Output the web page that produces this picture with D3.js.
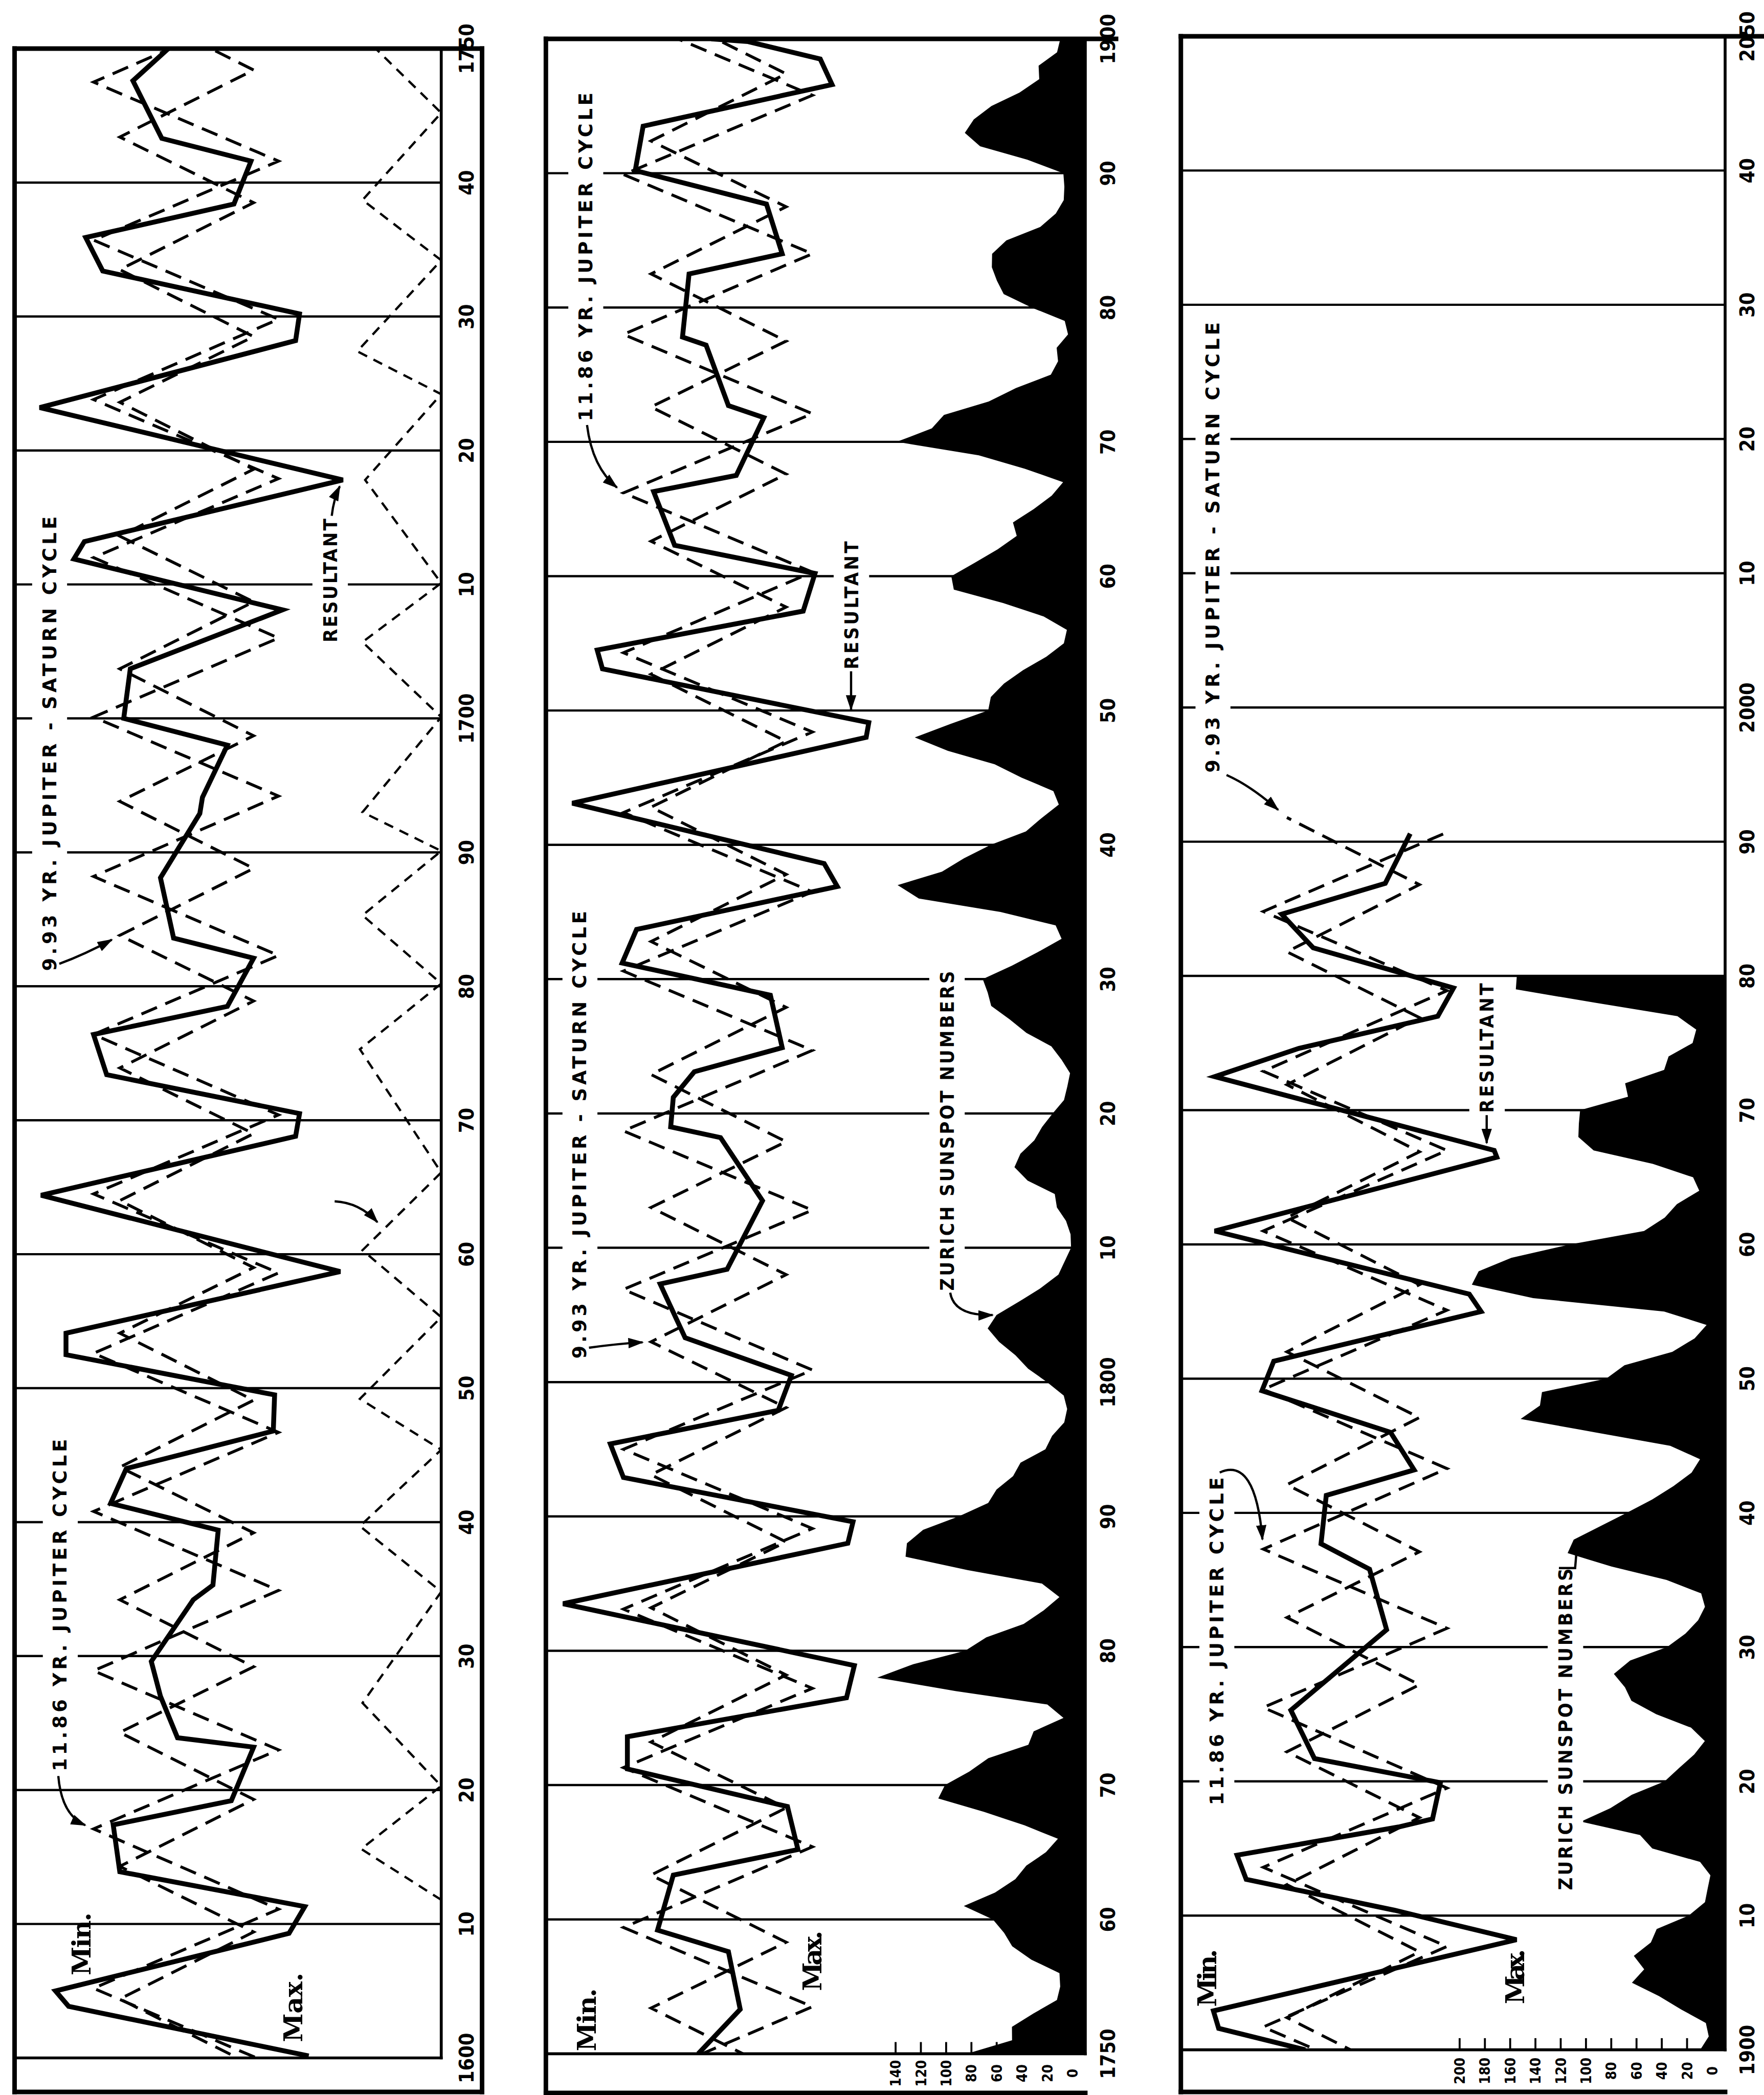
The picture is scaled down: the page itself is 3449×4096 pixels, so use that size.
<!DOCTYPE html>
<html>
<head>
<meta charset="utf-8">
<title>Jupiter and Jupiter–Saturn cycles with Zurich sunspot numbers, 1600–2050</title>
<script src="https://cdn.jsdelivr.net/npm/d3@7"></script>
<style>
  html, body { margin: 0; padding: 0; background: #ffffff; }
  svg { display: block; }
</style>
</head>
<body>
<svg id="chart" width="3449" height="4096" xmlns="http://www.w3.org/2000/svg"></svg>
<script>
// ---------------- data ----------------

// Decade labels printed along the right edge of each strip.
const yearLabelsA = ["1600","10","20","30","40","50","60","70","80","90","1700","10","20","30","40","1750"];
const yearLabelsB = ["1750","60","70","80","90","1800","10","20","30","40","50","60","70","80","90","1900"];
const yearLabelsC = ["1900","10","20","30","40","50","60","70","80","90","2000","10","20","30","40","2050"];

// Zurich sunspot number scale labels.
const sunspotTicksB = [0, 20, 40, 60, 80, 100, 120, 140];
const sunspotTicksC = [0, 20, 40, 60, 80, 100, 120, 140, 160, 180, 200];

// 11.86-yr Jupiter cycle: years of its Min and Max turns.
const jupiterMinYears = [1605.2,1617.1,1628.9,1640.8,1652.6,1664.5,1676.4,1688.2,1700.1,1712.0,1723.8,1735.7,
  1747.5,1759.4,1771.3,1783.1,1795.0,1806.9,1818.7,1830.6,1842.4,1854.3,1866.2,1878.0,1889.9,
  1901.7,1913.6,1925.5,1937.3,1949.2,1961.0,1972.9,1984.8];
const jupiterMaxYears = [1599.3,1611.1,1623.0,1634.9,1646.7,1658.6,1670.4,1682.3,1694.2,1706.0,1717.9,1729.8,
  1741.6,1753.5,1765.4,1777.2,1789.1,1800.9,1812.8,1824.7,1836.5,1848.4,1860.3,1872.1,1884.0,1895.8,
  1907.7,1919.5,1931.4,1943.3,1955.1,1967.0,1978.9,1990.7];

// 9.93-yr Jupiter–Saturn cycle: years of its Min and Max turns.
const saturnMinYears = [1604.4,1614.3,1624.3,1634.2,1644.1,1654.1,1664.0,1673.9,1683.8,1693.8,1703.7,1713.6,
  1723.6,1733.5,1743.4,1753.4,1763.3,1773.2,1783.2,1793.1,1803.0,1813.0,1822.9,1832.8,1842.8,1852.7,
  1862.6,1872.6,1882.5,1892.4,1902.4,1912.3,1922.2,1932.2,1942.1,1952.0,1962.0,1971.9,1981.8,1991.8];
const saturnMaxYears = [1599.4,1609.4,1619.3,1629.2,1639.2,1649.1,1659.0,1669.0,1678.9,1688.8,1698.7,1708.7,
  1718.6,1728.5,1738.5,1748.4,1758.3,1768.3,1778.2,1788.1,1798.1,1808.0,1817.9,1827.9,1837.8,1847.7,
  1857.7,1867.6,1877.5,1887.5,1897.4,1907.3,1917.3,1927.2,1937.1,1947.1,1957.0,1966.9,1976.9,1986.8];

// Chart level of each cycle at its [Min, Max] turn, for strips A, B, C.
const jupiterLevels = [[265, 124], [352, 208], [352, 212]];
const saturnLevels  = [[245, 143], [331, 228], [334, 233]];

// Resultant curve, [year, level], one list per strip.
const resultantA = [[1600.15,101],[1603.85,284],[1605.0,294],[1609.3,116],[1611.3,104],[1613.9,245],[1617.4,250],
  [1619.2,160],[1623.2,143],[1623.9,201],[1627.0,214],[1629.6,221],[1634.2,189],[1635.3,174],[1639.4,170],
  [1641.4,252],[1644.0,240],[1646.8,128],[1649.5,127],[1652.5,286],[1654.1,286],[1658.7,77],[1664.4,305],
  [1668.8,111],[1670.5,108],[1673.4,255],[1676.4,265],[1678.5,163],[1682.1,143],[1683.6,204],[1688.1,214],
  [1692.9,184],[1694.1,182],[1698.0,163],[1700.0,242],[1703.7,237],[1708.1,121],[1711.9,280],[1713.2,272],
  [1717.8,75],[1723.2,306],[1728.2,111],[1730.2,108],[1733.4,258],[1735.9,271],[1738.4,158],[1741.6,145],
  [1743.3,213],[1747.6,235],[1750.0,208]];
const resultantB = [[1750.0,295],[1753.3,263],[1757.6,272],[1759.2,326],[1763.3,314],[1765.2,219],[1768.4,227],
  [1771.2,349],[1773.6,349],[1776.5,182],[1778.9,176],[1783.5,398],[1788.0,181],[1789.6,177],[1792.9,352],
  [1795.4,362],[1797.9,234],[1800.5,224],[1803.3,305],[1807.3,324],[1808.4,273],[1813.5,246],[1818.2,278],
  [1819.0,316],[1821.2,314],[1823.1,298],[1824.9,231],[1828.8,240],[1831.2,353],[1833.7,342],[1836.9,189],
  [1838.6,199],[1843.1,391],[1848.0,167],[1849.1,165],[1853.1,368],[1854.5,372],[1857.4,215],[1860.2,206],
  [1862.3,313],[1866.3,329],[1867.5,266],[1871.8,245],[1872.7,272],[1877.2,289],[1877.8,307],[1882.5,302],
  [1884.0,231],[1887.7,243],[1890.2,343],[1893.5,337],[1896.6,193],[1898.5,202],[1899.8,257],[1900.0,285]];
const resultantC = [[1900.0,320],[1901.6,386],[1902.9,390],[1908.2,159],[1910.4,252],[1912.7,365],[1914.5,372],
  [1916.6,249],[1917.2,223],[1919.9,217],[1921.7,313],[1925.3,331],[1931.3,258],[1935.8,271],[1937.7,308],
  [1941.3,304],[1943.2,237],[1946.0,255],[1949.1,353],[1951.3,344],[1955.0,186],[1956.3,195],[1961.0,389],
  [1966.5,174],[1967.0,176],[1972.5,389],[1974.6,325],[1977.0,219],[1979.1,207],[1982.1,314],[1984.6,338],
  [1986.9,259],[1990.6,240]];

// Light dashed zigzag near the edge of the first strip, [year, level].
const earlyZigzag = [[1611.8,0],[1615.6,61],[1620.3,0],[1626.5,60],[1634.8,0],[1639.7,62],[1645.4,0],[1649.2,62],
  [1655.3,0],[1660.3,60],[1666.1,0],[1675.3,62],[1680.2,0],[1685.3,60],[1690.1,0],[1693.0,60],[1700.1,0],
  [1705.7,60],[1710.1,0],[1717.8,58],[1724.2,0],[1727.4,64],[1734.2,0],[1738.7,60],[1745.2,0],[1750.0,50]];

// Yearly Zurich sunspot numbers, 1750 to 1980.
const sunspotStart = 1750;
const sunspotNumbers = [
  83.4, 47.7, 47.8, 30.7, 12.2, 9.6, 10.2, 32.4, 47.6, 54.0,
  62.9, 85.9, 61.2, 45.1, 36.4, 20.9, 11.4, 37.8, 69.8, 106.1,
  100.8, 81.6, 66.5, 34.8, 30.6, 7.0, 19.8, 92.5, 154.4, 125.9,
  84.8, 68.1, 38.5, 22.8, 10.2, 24.1, 82.9, 132.0, 130.9, 118.1,
  89.9, 66.6, 60.0, 46.9, 41.0, 21.3, 16.0, 6.4, 4.1, 6.8,
  20.0, 35.0, 45.0, 58.0, 67.0, 60.0, 42.0, 25.0, 11.0, 6.0,
  1.0, 1.4, 5.0, 12.2, 13.9, 35.4, 45.8, 41.1, 30.1, 23.9,
  15.6, 6.6, 4.0, 1.8, 8.5, 16.6, 36.3, 49.6, 64.2, 67.0,
  70.9, 47.8, 27.5, 8.5, 13.2, 56.9, 121.5, 138.3, 103.2, 85.7,
  64.6, 36.7, 24.2, 10.7, 15.0, 40.1, 61.5, 98.5, 124.7, 96.3,
  66.6, 64.5, 54.1, 39.0, 20.6, 6.7, 4.3, 22.7, 54.8, 93.8,
  95.8, 77.2, 59.1, 44.0, 47.0, 30.5, 16.3, 7.3, 37.6, 74.0,
  139.0, 111.2, 101.6, 66.2, 44.7, 17.0, 11.3, 12.4, 3.4, 6.0,
  32.3, 54.3, 59.7, 63.7, 63.5, 52.2, 25.4, 13.1, 6.8, 6.3,
  7.1, 35.6, 73.0, 85.1, 78.0, 64.0, 41.8, 26.2, 26.7, 12.1,
  9.5, 2.7, 5.0, 24.4, 42.0, 63.5, 53.8, 62.0, 48.5, 43.9,
  18.6, 5.7, 3.6, 1.4, 9.6, 47.4, 57.1, 103.9, 80.6, 63.6,
  37.6, 26.1, 14.2, 5.8, 16.7, 44.3, 63.9, 69.0, 77.8, 64.9,
  35.7, 21.2, 11.1, 5.7, 8.7, 36.1, 79.7, 114.4, 109.6, 88.8,
  67.8, 47.5, 30.6, 16.3, 9.6, 33.2, 92.6, 151.6, 136.3, 134.7,
  83.9, 69.4, 31.5, 13.9, 4.4, 38.0, 141.7, 190.2, 184.8, 159.0,
  112.3, 53.9, 37.5, 27.9, 10.2, 15.1, 47.0, 93.8, 105.9, 105.5,
  104.5, 66.6, 68.9, 38.0, 34.5, 15.5, 12.6, 27.5, 92.5, 155.4,
  154.6
];

// ---------------- layout (drawn in a 5445 x 6467 frame, scaled to the window) ----------------
const SCALE = 3449 / 5445;

const strips = [
  { start: 1600, end: 1750, left: 45, right: 1362, outerRight: 1488, topReach: 1488,
    top: 150, base: 6352, bottom: 6457, labelX: 1440,
    yearLabels: yearLabelsA, resultant: resultantA, sunspotTicks: null },
  { start: 1750, end: 1900, left: 1685, right: 3350, outerRight: null, topReach: 3445,
    top: 120, base: 6339, bottom: 6460, labelX: 3420,
    yearLabels: yearLabelsB, resultant: resultantB, sunspotTicks: sunspotTicksB },
  { start: 1900, end: 2050, left: 3645, right: 5325, outerRight: null, topReach: 5440,
    top: 112, base: 6327, bottom: 6457, labelX: 5393,
    yearLabels: yearLabelsC, resultant: resultantC, sunspotTicks: sunspotTicksC }
];

const fonts = {
  caption:   { family: "'DejaVu Sans', 'Liberation Sans', sans-serif", weight: 700, size: 58 },
  condensed: { family: "'DejaVu Sans Condensed', 'DejaVu Sans', sans-serif", weight: 700, size: 60 },
  hand:      { family: "'DejaVu Serif', 'Liberation Serif', serif", weight: 700, size: 80 },
  year:      { family: "'DejaVu Sans Condensed', 'DejaVu Sans', sans-serif", weight: 700, size: 62 },
  scale:     { family: "'DejaVu Sans Condensed', 'DejaVu Sans', sans-serif", weight: 700, size: 44 }
};

// Rotated captions: x = centre line, y = lower end of the text, len = printed length.
const captions = [
  { strip: 0, text: "11.86 YR. JUPITER CYCLE", x: 185, y: 5467, len: 1025, font: "caption", backed: true },
  { strip: 0, text: "9.93 YR. JUPITER - SATURN CYCLE", x: 152, y: 2997, len: 1403, font: "caption", backed: true },
  { strip: 0, text: "RESULTANT", x: 1018, y: 1983, len: 382, font: "condensed", backed: true },
  { strip: 0, text: "Min.", x: 250, y: 6097, len: 194, font: "hand" },
  { strip: 0, text: "Max.", x: 905, y: 6303, len: 214, font: "hand" },

  { strip: 1, text: "11.86 YR. JUPITER CYCLE", x: 1807, y: 1300, len: 1014, font: "caption", backed: true },
  { strip: 1, text: "9.93 YR. JUPITER - SATURN CYCLE", x: 1789, y: 4194, len: 1382, font: "caption", backed: true },
  { strip: 1, text: "RESULTANT", x: 2627, y: 2066, len: 395, font: "condensed", backed: true },
  { strip: 1, text: "ZURICH SUNSPOT NUMBERS", x: 2922, y: 3984, len: 987, font: "condensed", backed: true },
  { strip: 1, text: "Min.", x: 1810, y: 6331, len: 194, font: "hand" },
  { strip: 1, text: "Max.", x: 2506, y: 6145, len: 186, font: "hand" },

  { strip: 2, text: "11.86 YR. JUPITER CYCLE", x: 3755, y: 5572, len: 1012, font: "caption", backed: true },
  { strip: 2, text: "9.93 YR. JUPITER - SATURN CYCLE", x: 3743, y: 2385, len: 1390, font: "caption", backed: true },
  { strip: 2, text: "RESULTANT", x: 4589, y: 3435, len: 400, font: "condensed", backed: true },
  { strip: 2, text: "ZURICH SUNSPOT NUMBERS", x: 4831, y: 5834, len: 993, font: "condensed", backed: true },
  { strip: 2, text: "Min.", x: 3725, y: 6194, len: 178, font: "hand" },
  { strip: 2, text: "Max.", x: 4675, y: 6186, len: 170, font: "hand" }
];

// Pointer arrows from captions to the curves they name.
const pointers = [
  { strip: 0, from: [180, 5482], via: [190, 5602], target: { year: 1617.1, level: 265 }, gap: 28 },
  { strip: 0, from: [183, 2975], via: [262, 2946], target: { year: 1683.8, level: 245 }, gap: 28 },
  { strip: 0, from: [1024, 1592], via: [1030, 1540], target: { year: 1717.8, level: 75 }, gap: 22 },
  { strip: 0, from: [1033, 3708], via: [1110, 3712], target: { year: 1662.0, level: 45 }, gap: 22 },
  { strip: 1, from: [1812, 1312], via: [1828, 1442], target: { year: 1866.2, level: 352 }, gap: 26 },
  { strip: 1, from: [1818, 4160], via: [1900, 4148], target: { year: 1803.0, level: 331 }, gap: 26 },
  { strip: 1, from: [2627, 2072], via: [2627, 2130], target: { xy: [2627, 2190] }, gap: 0 },
  { strip: 1, from: [2933, 3990], via: [2945, 4062], target: { year: 1805.0, spots: 60 }, gap: 12 },
  { strip: 2, from: [3765, 4545], via: [3875, 4495], target: { year: 1937.3, level: 352 }, gap: 30 },
  { strip: 2, from: [3786, 2392], via: [3860, 2425], target: { year: 1991.8, level: 334 }, gap: 36 },
  { strip: 2, from: [4589, 3442], via: [4589, 3480], target: { xy: [4589, 3528] }, gap: 0 }
];

// ---------------- drawing ----------------
const svg = d3.select("#chart");
svg.append("rect").attr("width", 3449).attr("height", 4096).attr("fill", "#ffffff");
const defs = svg.append("defs");
defs.append("marker")
  .attr("id", "head")
  .attr("viewBox", "0 0 12 8")
  .attr("refX", 11).attr("refY", 4)
  .attr("markerWidth", 48).attr("markerHeight", 32)
  .attr("markerUnits", "userSpaceOnUse")
  .attr("orient", "auto")
  .append("path").attr("d", "M0,0 L12,4 L0,8 Z").attr("fill", "#000");

const root = svg.append("g").attr("transform", `scale(${SCALE})`);

function turns(minYears, maxYears, levels) {
  return minYears.map(t => ({ year: t, v: levels[0] }))
    .concat(maxYears.map(t => ({ year: t, v: levels[1] })))
    .sort((a, b) => a.year - b.year);
}

function styleText(sel, f) {
  return sel.attr("font-family", f.family).attr("font-weight", f.weight)
    .attr("font-size", f.size).attr("fill", "#000");
}

strips.forEach((s, i) => {
  const y = d3.scaleLinear().domain([s.start, s.end]).range([s.base, s.top]);
  const level = d3.scaleLinear().domain([0, 100]).range([s.right, s.right - 405]);
  const spots = d3.scaleLinear().domain([0, 200]).range([s.right - 40, s.right - 820]);
  const g = root.append("g").attr("class", `strip strip-${i}`);

  defs.append("clipPath").attr("id", `plot-${i}`).append("rect")
    .attr("x", s.left).attr("y", s.top - 2)
    .attr("width", s.right - s.left).attr("height", s.base - s.top + 4);

  // decade rules
  g.append("g").selectAll("line")
    .data(d3.range(s.start + 10, s.end, 10))
    .join("line")
    .attr("x1", s.left).attr("x2", s.right)
    .attr("y1", d => y(d)).attr("y2", d => y(d))
    .attr("stroke", "#000").attr("stroke-width", 7);

  // sunspot number scale along the foot of the strip
  if (s.sunspotTicks) {
    const ax = d3.axisBottom(spots).tickValues(s.sunspotTicks).tickSize(-36).tickFormat(d3.format("d"));
    const axG = g.append("g").attr("transform", `translate(0,${s.base})`).call(ax);
    axG.select(".domain").remove();
    axG.selectAll(".tick line").attr("stroke", "#000").attr("stroke-width", 6);
    styleText(axG.selectAll(".tick text"), fonts.scale)
      .attr("x", 0).attr("y", 0).attr("dy", "0.36em")
      .attr("text-anchor", "middle")
      .attr("transform", `translate(0,${(s.bottom - s.base) / 2}) rotate(-90)`);
  }

  // sunspot silhouette
  const spotData = sunspotNumbers
    .map((v, k) => ({ year: sunspotStart + k, value: v }))
    .filter(d => d.year >= s.start && d.year <= s.end);
  if (spotData.length) {
    g.append("path").datum(spotData)
      .attr("clip-path", `url(#plot-${i})`)
      .attr("d", d3.area().y(d => y(d.year)).x0(s.right).x1(d => spots(d.value)))
      .attr("fill", "#000");
  }

  // captions (white backing breaks the rules behind them)
  captions.filter(c => c.strip === i).forEach(c => {
    const f = fonts[c.font];
    const grp = g.append("g").attr("transform", `translate(${c.x},${c.y}) rotate(-90)`);
    const t = styleText(grp.append("text"), f)
      .attr("x", 0).attr("y", 0).attr("dy", "0.36em")
      .attr("textLength", c.len).attr("lengthAdjust", "spacing")
      .text(c.text);
    if (c.backed) {
      const b = t.node().getBBox();
      grp.insert("rect", "text")
        .attr("x", b.x - 8).attr("y", b.y - 20)
        .attr("width", b.width + 16).attr("height", b.height + 40)
        .attr("fill", "#fff");
    }
  });

  const plot = g.append("g").attr("clip-path", `url(#plot-${i})`);

  if (i === 0) {
    plot.append("path").datum(earlyZigzag)
      .attr("d", d3.line().x(d => level(d[1])).y(d => y(d[0])))
      .attr("fill", "none").attr("stroke", "#000").attr("stroke-width", 7)
      .attr("stroke-dasharray", "30,22").attr("stroke-linejoin", "miter");
  }

  const cycleLine = d3.line().x(d => level(d.v)).y(d => y(d.year));
  [turns(jupiterMinYears, jupiterMaxYears, jupiterLevels[i]),
   turns(saturnMinYears, saturnMaxYears, saturnLevels[i])].forEach(pts => {
    plot.append("path").datum(pts)
      .attr("d", cycleLine)
      .attr("fill", "none").attr("stroke", "#000").attr("stroke-width", 9)
      .attr("stroke-dasharray", "52,28").attr("stroke-linejoin", "miter")
      .attr("stroke-miterlimit", 6);
  });

  plot.append("path").datum(s.resultant)
    .attr("d", d3.line().x(d => level(d[1])).y(d => y(d[0])))
    .attr("fill", "none").attr("stroke", "#000").attr("stroke-width", 15)
    .attr("stroke-linejoin", "miter").attr("stroke-miterlimit", 4);

  // frame
  const frame = g.append("g").attr("stroke", "#000").attr("stroke-linecap", "square");
  const edge = (x1, y1, x2, y2, w) => frame.append("line")
    .attr("x1", x1).attr("y1", y1).attr("x2", x2).attr("y2", y2).attr("stroke-width", w);
  edge(s.left, s.top, s.topReach, s.top, 14);
  edge(s.left, s.top, s.left, s.bottom, 14);
  edge(s.right, s.top, s.right, s.base, 9);
  edge(s.left, s.base, s.right, s.base, 9);
  edge(s.left, s.bottom, s.outerRight || s.right, s.bottom, 14);
  if (s.outerRight) edge(s.outerRight, s.top, s.outerRight, s.bottom, 14);

  // decade labels
  const yAx = d3.axisRight(y)
    .tickValues(d3.range(s.start, s.end + 1, 10))
    .tickSize(0)
    .tickFormat((d, k) => s.yearLabels[k]);
  const yG = g.append("g").attr("transform", `translate(${s.labelX},0)`).call(yAx);
  yG.select(".domain").remove();
  styleText(yG.selectAll(".tick text"), fonts.year)
    .attr("x", 0).attr("y", 0).attr("dy", "0.36em")
    .attr("text-anchor", "middle")
    .attr("transform", "rotate(-90)");

  // pointer arrows
  pointers.filter(p => p.strip === i).forEach(p => {
    let end;
    if (p.target.xy) end = p.target.xy;
    else if (p.target.spots !== undefined) end = [spots(p.target.spots), y(p.target.year)];
    else end = [level(p.target.level), y(p.target.year)];
    const dx = end[0] - p.via[0], dy = end[1] - p.via[1];
    const dl = Math.hypot(dx, dy) || 1;
    const tip = [end[0] - dx / dl * p.gap, end[1] - dy / dl * p.gap];
    const path = d3.path();
    path.moveTo(p.from[0], p.from[1]);
    path.quadraticCurveTo(p.via[0], p.via[1], tip[0], tip[1]);
    g.append("path").attr("d", path.toString())
      .attr("fill", "none").attr("stroke", "#000").attr("stroke-width", 7)
      .attr("marker-end", "url(#head)");
  });

  // leader from the sunspot caption of the last strip
  if (i === 2) {
    g.append("path")
      .attr("d", d3.line()([[4812, 4840], [4862, 4840], [4868, 4768]]))
      .attr("fill", "none").attr("stroke", "#000").attr("stroke-width", 7);
  }
});
</script>
</body>
</html>
